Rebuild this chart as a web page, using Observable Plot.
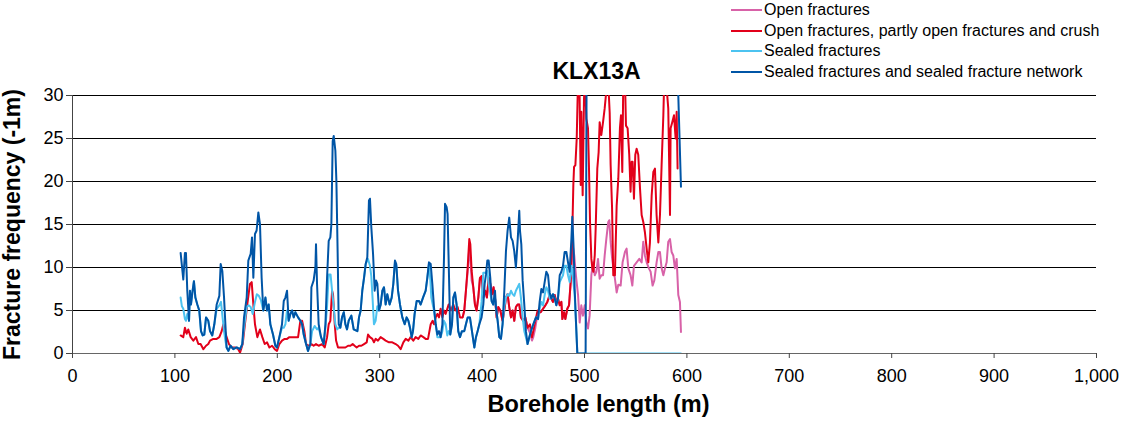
<!DOCTYPE html>
<html>
<head>
<meta charset="utf-8">
<script src="https://cdn.jsdelivr.net/npm/d3@7"></script>
<script src="https://cdn.jsdelivr.net/npm/@observablehq/plot@0.6"></script>
<style>
  body { margin: 0; background: #fff; font-family: "Liberation Sans", Arial, sans-serif; }
  #wrap { position: relative; width: 1123px; height: 427px; }
  #legend { position: absolute; left: 731px; top: 0; font-size: 16px; color: #000; }
  #legend .row { height: 20.6px; display: flex; align-items: center; white-space: nowrap; }
  #legend svg { margin-right: 2px; }
</style>
</head>
<body>
<div id="wrap"><div id="legend"></div></div>
<script>
// ---- Data (borehole length m, fracture frequency 1/m) ----
const titleText = "KLX13A";
const xLabel = "Borehole length (m)";
const yLabel = "Fracture frequency (-1m)";
const xTicks = [0, 100, 200, 300, 400, 500, 600, 700, 800, 900, 1000];
const yTicks = [0, 5, 10, 15, 20, 25, 30];

const seriesNames = [
  "Open fractures",
  "Open fractures, partly open fractures and crush",
  "Sealed fractures",
  "Sealed fractures and sealed fracture network"
];
const seriesColors = ["#d862a8", "#e2001a", "#4cc3f0", "#0055a6"];

// Open fractures (visible where it departs from the crush series)
const openDepth = [381.0,382.6,384.2,385.9,387.5,388.5,389.8,391.4,393.0,394.6,396.3,397.9,399.5,401.2,403.1,404.7,406.4,408.0,409.6,411.2,412.9,414.2,415.8,417.8,420.0,421.7,423.3,424.9,426.5,428.2,429.8,431.4,433.0,434.7,436.3,437.9,440.2,442.2,444.4,446.7,448.7,450.0,452.0,454.2,457.2,459.5,461.8,463.7,466.0,467.6,469.2,470.9,472.5,474.1,475.8,477.4,478.4,480.0,481.3,483.2,484.9,486.5,488.4,490.0,491.7,493.7,495.3,496.9,498.5,500.2,501.8,503.4,505.0,506.7,508.3,510.0,511.6,513.2,514.8,516.4,518.1,519.7,521.3,523.2,524.2,525.5,527.0,529.7,531.4,533.0,535.3,537.2,539.5,541.1,542.8,545.0,546.7,548.3,550.9,553.5,555.8,557.4,559.0,560.7,562.9,564.6,566.5,568.2,570.4,572.1,573.7,575.3,577.0,578.6,580.2,581.8,583.5,585.1,586.7,588.3,590.0,591.6,593.2,594.2];
const openFreq  = [4.2,5.0,7.3,9.5,12.3,11.0,8.5,7.7,5.7,5.0,6.5,8.8,9.0,6.5,7.3,6.5,8.8,8.1,6.9,7.7,6.1,4.2,5.4,5.0,3.8,5.0,6.5,6.9,5.4,4.2,5.0,3.8,5.4,5.7,5.7,4.2,3.8,4.2,3.0,2.4,1.5,1.9,3.0,4.6,4.8,5.2,5.6,6.0,6.8,6.4,6.0,6.8,6.0,6.4,5.6,6.0,4.0,4.8,4.0,5.2,5.6,8.3,12.6,11.4,9.0,6.8,3.6,5.6,4.4,5.6,3.6,2.9,4.4,9.1,10.6,9.1,9.5,11.0,8.7,9.1,9.1,11.4,13.3,15.3,15.5,13.0,11.0,8.7,7.1,8.0,7.9,10.6,11.8,12.2,9.9,9.1,7.9,10.2,10.6,11.0,10.6,13.0,11.4,10.6,9.9,9.5,7.9,8.5,10.6,11.8,11.8,9.9,9.1,9.9,10.6,13.0,13.3,11.8,11.4,9.9,11.0,6.8,6.0,2.5];

// Open fractures, partly open fractures and crush
const crushDepth = [105.6,108.2,109.8,111.5,113.1,115.4,118.0,120.6,122.9,125.1,127.8,130.4,132.6,134.3,137.5,140.8,143.4,145.7,147.3,148.9,150.5,152.8,155.4,158.7,161.9,163.6,166.2,168.4,170.7,173.3,175.0,176.6,178.2,180.5,183.1,185.4,187.7,190.0,192.3,194.9,197.5,199.7,202.0,204.6,207.2,209.5,211.8,214.4,217.6,220.3,222.5,224.2,226.4,228.1,230.7,233.3,235.5,237.8,240.4,243.7,246.3,248.6,250.2,251.8,253.5,254.4,256.1,257.4,259.3,263.2,266.5,269.1,271.4,273.6,275.5,277.5,279.8,282.1,284.7,287.3,288.6,290.5,292.8,294.4,296.0,298.3,300.9,303.5,305.8,309.1,312.3,315.6,317.9,320.5,323.1,325.4,328.0,330.2,332.8,335.1,337.7,340.0,342.6,344.9,347.2,349.8,351.7,353.0,354.7,356.3,357.9,359.5,361.2,362.8,364.4,367.3,369.6,371.9,373.8,376.1,378.4,381.0,382.6,384.2,385.9,387.5,388.5,389.8,391.4,393.0,394.6,396.3,397.9,399.5,401.2,403.1,404.7,406.4,408.0,409.6,411.2,412.9,414.2,415.8,417.8,420.0,421.7,423.3,424.9,426.5,428.2,429.8,431.4,433.0,434.7,436.3,437.9,440.2,442.2,444.4,446.7,448.7,450.0,452.0,454.2,457.2,459.5,461.8,463.7,466.0,467.6,469.2,470.9,472.5,474.1,475.8,477.4,478.4,480.0,481.3,483.2,484.9,486.5,488.1,489.1,489.8,491.1,492.4,493.7,495.0,496.3,496.9,498.2,499.5,500.5,501.8,503.4,504.4,505.4,506.7,507.7,508.6,510.0,510.9,512.5,513.8,514.8,516.4,518.1,519.7,521.3,523.0,524.6,525.5,526.9,528.1,529.7,531.4,533.0,534.6,535.6,536.9,537.9,539.5,540.5,542.1,543.7,545.0,546.0,547.0,548.3,549.6,550.9,552.5,554.2,555.8,557.4,559.0,560.7,562.3,563.9,565.6,567.2,568.8,570.4,572.1,573.7,575.3,577.0,577.9,579.5,581.8,583.5,584.1,585.7,587.4,589.0,590.0,590.9];
const crushFreq  = [2.1,1.9,3.0,2.3,2.8,1.9,1.5,1.9,1.1,1.1,0.5,0.9,1.1,1.5,1.7,1.7,1.9,2.6,3.4,2.6,1.9,1.1,0.7,0.7,0.5,0.1,1.1,3.4,5.7,8.1,8.3,5.7,3.4,1.9,2.8,1.9,1.1,1.3,0.7,0.9,0.5,0.3,1.1,1.5,1.7,1.7,1.9,1.9,1.9,1.9,3.8,3.8,2.6,1.1,0.9,1.1,0.9,1.1,0.9,1.1,0.7,1.9,3.4,3.8,7.3,6.9,3.4,1.5,0.7,0.7,0.7,0.9,0.9,1.1,0.9,0.7,0.9,0.9,1.1,1.3,2.2,1.9,1.7,1.3,1.7,1.5,1.9,1.7,1.5,1.3,1.3,1.1,0.9,0.5,1.3,1.7,1.5,1.9,1.5,1.9,1.7,2.1,1.9,1.7,1.7,3.4,3.8,3.4,4.2,4.6,4.2,5.2,4.2,5.0,4.6,5.7,5.0,5.7,5.0,5.4,4.2,4.2,5.0,7.3,10.0,13.3,12.7,9.6,7.7,5.7,5.0,6.5,8.8,9.0,6.5,7.3,6.5,8.8,8.1,6.9,7.7,6.1,4.2,5.4,5.0,3.8,5.0,6.5,6.9,5.4,4.2,5.0,3.8,5.4,5.7,5.7,4.2,3.8,4.2,3.0,3.4,1.9,2.6,3.8,5.0,4.8,5.2,5.6,6.0,6.8,6.4,6.0,6.8,6.0,6.4,5.6,6.0,4.0,4.8,4.0,5.2,5.6,8.3,14.1,19.6,21.7,21.9,25.0,32,32,19.6,28.1,18.4,29.6,32,27.3,26.2,21.5,15.3,11.0,9.9,9.5,11.4,14.5,21.5,23.4,26.9,25.4,26.9,28.5,30.5,32,28,22,17,9.1,9.1,17.2,20.3,26.2,27.7,21.1,32,32,26.5,26.2,23.1,18.8,22.3,22.3,18.0,23.1,23.8,23.1,19.2,16.1,15.3,14.1,12.2,10.6,12.9,18.4,21.1,21.5,16.1,12.9,16.1,21.9,27.7,32,32,28.5,16.1,26.2,26.9,27.7,25.0,28.1,21.5];

// Sealed fractures
const sealedDepth = [105.6,106.8,108.2,109.8,110.8,112.1,113.8,114.7,115.7,117.3,118.6,120.0,121.9,123.8,125.5,127.1,128.7,130.4,132.6,134.3,136.5,138.5,140.8,143.4,145.0,146.3,148.0,149.3,150.5,152.2,154.4,157.0,160.3,163.6,165.8,167.5,170.1,172.0,174.0,176.0,178.2,180.0,182.0,184.0,186.3,188.4,190.0,191.6,193.2,195.8,198.1,199.7,202.0,204.6,206.3,207.9,209.5,211.1,212.8,214.4,216.0,217.6,220.3,222.5,224.2,225.8,228.1,230.0,232.3,234.0,236.5,238.8,240.4,242.7,245.3,247.0,248.6,250.2,252.0,253.5,255.0,256.7,258.5,260.0,261.6,263.2,264.9,266.5,268.1,269.7,272.3,274.6,278.2,279.8,281.4,283.0,284.7,286.3,288.5,290.5,291.8,293.0,294.4,296.0,297.7,299.3,301.0,302.6,304.2,305.8,307.4,309.7,311.7,313.3,314.9,316.2,317.9,319.8,322.1,324.4,326.3,328.0,329.6,331.2,332.5,334.1,336.1,338.4,340.0,342.3,344.9,346.5,348.1,349.5,350.4,353.0,354.7,356.3,357.9,359.5,361.2,362.8,364.4,366.0,367.5,368.9,370.6,371.9,373.5,375.1,376.7,378.4,380.3,382.6,384.2,385.9,388.1,390.1,392.4,394.0,395.6,397.3,399.5,401.2,403.8,405.1,406.4,408.0,409.3,410.9,412.6,413.5,415.2,416.8,418.4,420.0,421.7,423.3,424.9,426.5,428.2,429.8,431.4,433.0,434.7,436.3,437.9,439.6,441.2,442.8,444.4,446.1,447.7,450.0,452.6,454.6,456.2,457.9,459.5,461.1,462.7,464.4,466.0,467.6,469.2,470.9,472.5,474.1,475.8,477.4,479.0,480.6,482.3,483.9,485.5,487.2,488.5,490.4,491.7,493.0,594.2];
const sealedFreq  = [6.5,5.5,5.2,4.0,3.8,4.6,3.8,7.3,5.7,7.3,8.4,6.5,5.7,5.0,2.6,2.1,2.2,4.2,3.8,2.6,2.1,3.4,5.2,5.6,6.0,4.5,2.6,1.5,0.7,0.3,0.9,0.5,0.7,0.5,1.1,3.0,5.4,5.6,5.4,4.6,6.0,6.9,6.7,6.2,5.0,6.5,5.0,5.7,3.4,2.2,0.9,0.7,1.9,3.0,3.0,3.4,5.0,3.8,4.6,5.0,4.2,4.8,4.2,3.8,3.4,2.2,1.1,0.3,1.1,2.6,3.2,2.8,3.0,1.9,1.1,3.0,5.5,9.2,9.2,7.3,5.5,3.4,2.8,3.0,3.0,4.2,4.8,3.4,2.8,3.8,4.4,2.8,2.6,4.2,5.0,7.3,8.8,10.4,11.0,10.2,9.0,6.5,3.4,3.8,5.5,5.0,5.7,7.3,7.7,5.7,6.9,5.7,6.5,8.1,10.6,10.2,7.3,5.7,4.2,3.4,4.2,3.8,3.0,1.9,2.6,4.6,6.1,6.1,5.7,6.5,7.3,8.8,10.4,8.5,6.5,5.0,3.4,1.9,1.9,1.9,2.6,3.8,3.4,2.1,2.6,2.2,3.4,6.5,7.1,5.7,2.6,1.9,2.6,2.6,3.4,4.2,4.2,2.6,0.7,1.9,2.6,3.4,6.0,9.4,9.4,9.6,8.1,7.0,6.1,5.7,6.5,5.4,3.8,1.9,1.7,3.4,5.5,6.5,6.9,6.7,7.3,6.9,6.7,7.3,7.7,8.1,6.5,4.2,2.6,1.9,1.1,1.9,2.6,3.4,4.2,4.0,5.2,6.0,5.6,6.8,7.7,7.3,6.4,6.4,6.9,6.4,5.6,6.4,8.3,8.7,9.1,10.2,10.2,9.1,8.3,10.2,9.1,6.8,3.6,0,0];

// Sealed fractures and sealed fracture network
const networkDepth = [105.6,108.2,109.8,110.8,112.1,113.8,114.7,115.7,117.3,118.6,120.0,121.9,123.8,125.5,127.1,128.7,130.4,132.6,134.3,136.5,138.5,140.8,143.4,144.7,146.3,148.0,149.3,150.5,152.2,154.4,157.0,160.3,163.6,165.8,167.5,170.1,171.7,174.0,175.3,176.6,178.2,179.8,181.5,183.1,184.7,186.3,188.4,190.0,191.6,193.2,195.8,198.1,199.7,202.0,204.6,206.3,207.9,209.5,211.1,212.8,214.4,216.0,217.6,220.3,222.5,224.2,225.8,228.1,230.0,232.3,233.3,235.5,237.2,237.8,238.8,240.4,242.7,245.3,247.0,248.6,250.2,251.8,252.8,254.1,255.1,256.7,257.7,259.0,260.0,261.6,263.2,264.9,266.5,268.1,269.7,272.3,274.6,278.2,279.8,281.4,283.0,284.7,286.3,287.9,289.5,290.5,291.8,293.5,295.1,296.4,297.7,299.3,301.0,302.6,304.2,305.8,307.4,309.7,311.7,313.3,314.9,316.2,317.9,319.8,322.1,324.4,326.3,328.0,329.6,331.2,332.5,334.1,336.1,338.4,340.0,342.3,344.9,346.5,348.1,349.8,351.4,353.0,354.7,356.3,357.9,359.5,361.2,362.8,363.8,365.4,366.3,368.0,368.9,370.6,371.9,373.5,375.1,376.7,378.4,380.3,382.6,384.2,385.9,388.1,390.1,392.4,394.0,395.6,397.3,399.5,401.2,402.5,403.8,405.1,406.4,408.0,409.3,410.9,412.6,413.5,415.2,416.8,418.4,420.0,421.7,423.3,424.9,426.5,428.2,429.8,431.4,433.0,434.7,436.3,437.0,438.3,439.6,441.2,442.8,444.4,446.1,447.7,450.0,452.6,454.6,456.2,457.9,459.5,461.1,462.7,464.4,466.0,467.6,469.2,470.9,472.5,474.1,475.8,477.4,479.0,480.6,482.3,483.9,485.5,487.2,488.1,489.4,490.4,491.7,493.0,501.1,502.1,590.8,591.6,594.2];
const networkFreq  = [11.7,8.6,11.7,11.7,7.3,3.8,7.3,5.7,7.3,8.4,6.5,5.7,5.0,2.6,2.1,2.2,4.2,3.8,2.6,2.1,3.4,5.7,6.7,10.4,9.6,6.5,3.4,0.7,0.3,0.9,0.5,0.7,0.5,1.1,4.2,6.5,10.8,11.6,13.5,8.8,13.9,14.3,16.4,15.0,8.8,5.0,6.5,5.0,5.7,3.4,2.2,0.9,0.7,1.9,3.4,6.1,6.5,7.3,3.8,4.6,5.0,4.2,4.8,4.2,3.8,3.4,2.2,1.1,0.3,1.1,7.7,8.5,10.0,12.7,8.1,3.4,1.9,1.1,3.4,8.8,13.1,13.5,15.0,24.7,25.3,23.6,20.1,11.2,3.4,3.0,4.2,4.8,3.4,2.8,3.8,4.4,2.8,2.6,4.2,5.0,7.3,8.8,10.4,11.2,17.8,18.0,14.7,11.6,7.3,8.5,8.1,5.0,5.7,7.3,7.7,5.7,6.9,5.7,6.5,8.1,10.8,10.4,7.3,5.7,4.2,3.4,4.2,3.8,3.0,1.9,2.6,4.6,6.1,6.1,5.7,6.5,7.3,8.8,10.6,10.4,8.1,5.4,3.4,2.2,2.6,1.9,3.4,11.2,17.4,17.0,16.2,7.3,2.2,3.4,6.5,7.1,5.7,2.6,1.9,2.6,2.6,3.4,4.2,4.2,2.6,0.7,1.9,2.6,3.4,4.2,5.7,8.1,9.2,10.8,10.8,8.8,6.1,5.7,7.3,5.4,3.8,1.9,1.7,3.4,7.3,11.9,14.3,15.8,13.5,13.1,11.9,10.0,13.1,16.6,14.3,12.7,8.5,5.7,2.6,1.1,1.9,2.6,3.4,4.2,4.0,6.0,7.5,7.1,8.3,9.5,9.1,7.1,6.4,6.9,6.4,5.6,6.4,9.1,9.5,10.2,11.8,11.8,10.6,9.5,13.3,15.9,12.2,7.5,3.6,0,0,34,34,30,19.4];

// ---- Build tables from the arrays ----
const depths = [openDepth, crushDepth, sealedDepth, networkDepth];
const freqs = [openFreq, crushFreq, sealedFreq, networkFreq];
const tables = depths.map((ds, k) => ds.map((d, i) => ({depth: d, freq: freqs[k][i]})));

const lineMarks = tables.map((t, k) =>
  Plot.line(t, {x: "depth", y: "freq", stroke: seriesColors[k], strokeWidth: 2, clip: true})
);

const chart = Plot.plot({
  width: 1123,
  height: 427,
  marginLeft: 72,
  marginRight: 27,
  marginTop: 95,
  marginBottom: 74,
  style: {fontFamily: "'Liberation Sans', Arial, sans-serif", fontSize: "18px", color: "#000", background: "#fff", overflow: "visible"},
  x: {domain: [0, 1000]},
  y: {domain: [0, 30]},
  marks: [
    Plot.ruleY(yTicks.filter(v => v > 0), {stroke: "#000", strokeWidth: 1}),
    ...lineMarks,
    Plot.ruleY([0], {stroke: "#666", strokeWidth: 1}),
    Plot.ruleX([0], {stroke: "#444", strokeWidth: 1}),
    Plot.axisX({ticks: xTicks, tickFormat: d3.format(","), tickSize: 5, tickPadding: 11, stroke: "#444", fontSize: 18, label: null}),
    Plot.axisY({ticks: yTicks, tickSize: 6, tickPadding: 3, stroke: "#444", fontSize: 18, label: null}),
    Plot.text([titleText], {frameAnchor: "top", dx: 12, dy: -33, fontSize: 23, fontWeight: "bold"}),
    Plot.text([xLabel], {frameAnchor: "bottom", dx: 14, dy: 58, fontSize: 23.5, fontWeight: "bold"}),
    Plot.text([yLabel], {frameAnchor: "left", textAnchor: "middle", dx: -60, dy: 0, rotate: -90, fontSize: 23, fontWeight: "bold"})
  ]
});
document.getElementById("wrap").prepend(chart);

// ---- Legend ----
const legend = document.getElementById("legend");
seriesNames.forEach((name, k) => {
  const row = document.createElement("div");
  row.className = "row";
  row.innerHTML = `<svg width="31" height="4"><line x1="0" x2="31" y1="2" y2="2" stroke="${seriesColors[k]}" stroke-width="2"/></svg><span>${name}</span>`;
  legend.appendChild(row);
});
</script>
</body>
</html>
